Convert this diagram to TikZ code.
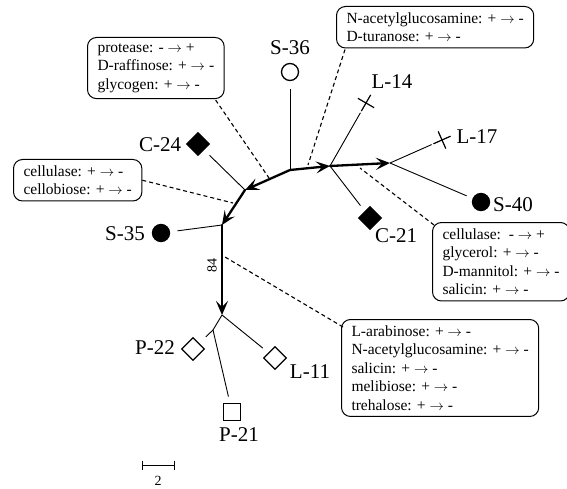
\documentclass[tikz,border=0pt]{standalone}
\usepackage{fontspec}
\setmainfont{Liberation Serif}
\usetikzlibrary{arrows.meta,shapes.geometric,shapes.misc,calc}

\tikzset{
  rama/.style={line width=0.9pt},
  tronco/.style={line width=2.3pt,line cap=round,-{Stealth[length=14pt,width=12pt,inset=6pt]}},
  enlace/.style={line width=1.1pt,dash pattern=on 4pt off 3pt},
  caja/.style={draw,line width=1pt,rounded corners=9pt,align=left,anchor=north west,
    inner xsep=10pt,inner ysep=6pt,font=\fontsize{15.5}{18.5}\selectfont},
  etiqueta/.style={font=\fontsize{21}{25}\selectfont,inner sep=0pt},
  hoja/.style={draw,line width=1.3pt,inner sep=0pt},
  rombo/.style={hoja,diamond,aspect=1,minimum size=23pt},
  punto/.style={hoja,circle,minimum size=17pt},
  cuadro/.style={hoja,rectangle,minimum size=17pt},
  cruz/.style={draw,cross out,line width=1.2pt,minimum size=12pt,inner sep=0pt}
}

\begin{document}
\begin{tikzpicture}[x=1pt,y=-1pt]
    \useasboundingbox (0,0) rectangle (567,489);

		% Nodos internos del arbol
		\coordinate (A) at (290,170);
		\coordinate (B) at (245,190);
		\coordinate (C) at (222,225);
		\coordinate (D) at (222,315);
		\coordinate (E) at (330,166);
		\coordinate (F) at (390,163);
		\coordinate (K) at (213,330);

		% Hojas
		\node[punto] (s36) at (290,72) {};
		\node[cruz,rotate=15] (l14) at (366,103) {};
		\node[cruz,rotate=-21] (l17) at (442,140) {};
		\node[punto,fill=black] (s40) at (481,202) {};
		\node[rombo,fill=black] (c21) at (370,218) {};
		\node[rombo,fill=black] (c24) at (198,144) {};
		\node[punto,fill=black] (s35) at (161,233) {};
		\node[rombo] (p22) at (193,349) {};
		\node[cuadro] (p21) at (232,412) {};
		\node[rombo] (l11) at (275,358) {};

		% Etiquetas
		\node[etiqueta] (ls36) at (290,48) {S-36};
		\node[etiqueta] (ll14) at (392,82) {L-14};
		\node[etiqueta] (ll17) at (477,137) {L-17};
		\node[etiqueta] (ls40) at (513,205) {S-40};
		\node[etiqueta] (lc21) at (396,236) {C-21};
		\node[etiqueta] (lc24) at (160,145) {C-24};
		\node[etiqueta] (ls35) at (125,234) {S-35};
		\node[etiqueta] (lp22) at (155,348) {P-22};
		\node[etiqueta] (ll11) at (310,372) {L-11};
		\node[etiqueta] (lp21) at (239,435) {P-21};

		% Ramas gruesas
		\draw[tronco] (A) -- (B);
		\draw[tronco] (B) -- (C);
		\draw[tronco] (C) -- (D);
		\draw[tronco] (A) -- (E);
		\draw[tronco] (E) -- (F);
		\node[rotate=90,font=\fontsize{14}{16}\selectfont,inner sep=0pt] (n84) at (212,265) {84};

		% Ramas finas
		\draw[rama,shorten >=7.5pt] (A) -- (s36);
		\draw[rama,shorten >=2pt] (E) -- (l14);
		\draw[rama,shorten >=7pt] (E) -- (c21);
		\draw[rama,shorten >=2pt] (F) -- (l17);
		\draw[rama,shorten >=6.5pt] (F) -- (s40);
		\draw[rama,shorten >=7.5pt] (B) -- (c24);
		\draw[rama,shorten >=7.5pt] (C) -- (s35);
		\draw[rama] (D) -- (K);
		\draw[rama,shorten >=9pt] (K) -- (p22);
		\draw[rama,shorten >=6.5pt] (K) -- (p21);
		\draw[rama,shorten >=7pt] (D) -- (l11);

		% Cajas de cambios
		\node[caja] (box1) at (87,37) {protease: - $\rightarrow$ +\\D-raffinose: + $\rightarrow$ -\\glycogen: + $\rightarrow$ -};
		\node[caja] (box2) at (336,6) {N-acetylglucosamine: + $\rightarrow$ -\\D-turanose: + $\rightarrow$ -};
		\node[caja] (box3) at (13,159) {cellulase: + $\rightarrow$ -\\cellobiose: + $\rightarrow$ -};
		\node[caja] (box4) at (432,222) {cellulase:\ \ - $\rightarrow$ +\\glycerol: + $\rightarrow$ -\\D-mannitol: + $\rightarrow$ -\\salicin: + $\rightarrow$ -};
		\node[caja] (box5) at (341,319) {L-arabinose: + $\rightarrow$ -\\N-acetylglucosamine: + $\rightarrow$ -\\salicin: + $\rightarrow$ -\\melibiose: + $\rightarrow$ -\\trehalose: + $\rightarrow$ -};

		% Lineas discontinuas
		\coordinate (t1) at (269,178);
		\coordinate (t2) at (308,165);
		\coordinate (t3) at (233,203);
		\coordinate (t4) at (360,168);
		\coordinate (t5) at (225,257);
		\draw[enlace] ($(box1.south east)+(-9,1)$) -- (t1);
		\draw[enlace] ($(box2.south west)+(9,1)$) -- (t2);
		\draw[enlace] (box3.east) -- (t3);
		\draw[enlace] ($(box4.north west)+(2,3)$) -- (t4);
		\draw[enlace] ($(box5.north west)+(2,8)$) -- (t5);

		% Escala
		\coordinate (e0) at (142,465);
		\coordinate (e1) at (175,465);
		\draw[line width=0.9pt,{Bar[width=9pt]}-{Bar[width=9pt]}] (e0) -- (e1);
		\node[font=\fontsize{14}{16}\selectfont] (esc) at (158,481) {2};

\end{tikzpicture}
\end{document}
